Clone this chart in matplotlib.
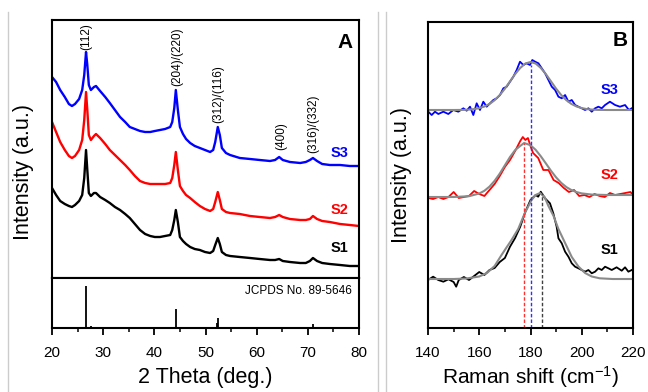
import matplotlib
matplotlib.use("Agg")
import matplotlib.pyplot as plt
from matplotlib.lines import Line2D
from matplotlib.ticker import MultipleLocator

plt.rcParams['font.family'] = ['Liberation Sans', 'DejaVu Sans']
plt.rcParams['mathtext.fontset'] = 'custom'
plt.rcParams['mathtext.rm'] = 'Liberation Sans'
plt.rcParams['mathtext.it'] = 'Liberation Sans:italic'

# ---------------- Panel A: XRD ----------------
xrd_2theta = [20.0, 20.8, 21.6, 22.5, 23.3, 23.9, 24.5, 25.3, 25.9, 26.3, 26.65, 26.9, 27.2, 27.6,
              28.2, 28.6, 29.4, 30.4, 31.3, 32.3, 33.3, 34.3, 35.2, 36.2, 37.2, 38.2, 39.2, 40.1,
              41.1, 42.1, 43.1, 43.5, 43.9, 44.2, 44.6, 45.0, 45.6, 46.2, 47.0, 47.9, 48.9, 49.9,
              50.9, 51.5, 51.9, 52.4, 52.8, 53.2, 54.0, 54.8, 56.7, 58.7, 60.6, 62.6, 63.6, 64.4,
              65.1, 66.5, 68.5, 69.6, 70.4, 71.0, 71.8, 72.8, 74.3, 76.3, 78.2, 80.0]
xrd_s3 = [201, 196, 188, 181, 174, 172, 174, 179, 188, 203, 226, 213, 193, 188,
          191, 192, 187, 181, 175, 168, 161, 156, 151, 149, 147, 146, 146, 147,
          148, 149, 151, 156, 170, 188, 168, 151, 144, 139, 135, 132, 130, 128,
          126, 128, 136, 151, 143, 130, 125, 123, 120, 119, 118, 117, 118, 121,
          118, 116, 115, 116, 118, 120, 117, 114, 113, 113, 112, 112]
xrd_s2 = [156, 146, 136, 128, 122, 120, 122, 128, 138, 158, 186, 168, 143, 138,
          142, 144, 140, 134, 128, 123, 118, 113, 108, 102, 97, 95, 94, 94,
          94, 94, 95, 100, 113, 126, 108, 92, 87, 83, 80, 76, 72, 69,
          67, 69, 76, 86, 78, 69, 66, 65, 64, 62, 61, 60, 61, 63,
          61, 59, 58, 58, 59, 62, 59, 57, 56, 54, 53, 52]
xrd_s1 = [90, 83, 77, 74, 72, 71, 73, 77, 83, 100, 128, 108, 85, 82,
          85, 85, 81, 78, 75, 71, 68, 64, 60, 54, 48, 44, 42, 41,
          41, 42, 43, 48, 58, 68, 56, 41, 37, 34, 31, 29, 28, 26,
          25, 27, 33, 40, 34, 26, 23, 22, 21, 20, 19, 18, 18, 19,
          17, 16, 15, 15, 17, 20, 17, 15, 14, 13, 12, 12]

jcpds_2theta = [26.7, 27.7, 35.6, 44.2, 52.2, 52.45, 64.5, 71.0]
jcpds_int = [42, 2, 1.5, 19, 5, 10, 1.5, 4]

hkl_labels = ['(112)', '(204)/(220)', '(312)/(116)', '(400)', '(316)/(332)']
hkl_pos = [26.7, 44.4, 52.4, 64.75, 71.0]
hkl_base = [228, 192, 155, 128, 125]

# ---------------- Panel B: Raman ----------------
ram_s3_x = [140.13, 141.43, 142.73, 144.03, 145.98, 147.93, 149.89, 151.84, 153.79, 155.09,
            156.39, 157.69, 158.99, 160.29, 161.59, 162.9, 164.2, 165.5, 166.8, 168.1,
            169.4, 170.7, 172.0, 173.3, 174.6, 175.9, 177.2, 178.5, 179.8, 180.7,
            181.8, 183.1, 184.4, 185.7, 187.0, 188.3, 189.6, 190.9, 192.2, 193.5,
            194.8, 196.1, 197.4, 198.7, 200.0, 201.3, 202.6, 203.9, 205.2, 206.5,
            207.8, 209.1, 211.0, 213.0, 214.9, 216.9, 218.4, 219.5]
ram_s3_y = [216.3, 213, 216.3, 214, 216.3, 214, 218, 216.3, 219.7, 217.3,
            221.3, 213, 224.7, 218, 226.3, 221.3, 224.7, 228, 229.7, 233,
            239.7, 241.3, 246.3, 251.3, 258, 266.3, 263, 264.7, 263, 268,
            266.3, 264.7, 259.7, 254.7, 248, 241.3, 238, 231.3, 229.7, 233,
            226.3, 228, 223, 221.3, 219.7, 218, 219.7, 216.3, 219.7, 221.3,
            219.7, 223, 226.3, 223, 221.3, 223, 218, 219.7]

ram_s2_x = [140, 142, 144, 146, 148, 150, 152, 154, 156, 158, 160, 162, 164, 166, 168, 170,
            172, 174, 176, 177, 178, 179, 180, 181, 183, 185, 187, 189, 191, 193, 195, 197,
            199, 201, 203, 205, 207, 209, 211, 213, 215, 217, 219, 220]
ram_s2_y = [130, 129, 131, 129, 131, 136, 130, 131, 132, 137, 134, 132, 138, 144, 152, 161,
            168, 177, 187, 191, 188, 190, 182, 175, 170, 158, 158, 148, 145, 140, 136, 138,
            132, 133, 131, 134, 132, 131, 135, 133, 134, 135, 136, 133]

ram_s1_x = [140, 142, 144, 146, 148, 150, 151, 152, 154, 156, 158, 160, 162, 164, 166, 168,
            170, 172, 174, 176, 178, 180, 182, 183, 184, 185.66, 187.6, 188.9, 190.2, 190.9,
            192.2, 193.5, 194.8, 196.1, 197.4, 198.7, 200.0, 201.3, 202.6, 203.9, 205.2,
            206.5, 207.8, 209.1, 210.4, 211.7, 213.6, 215.6, 216.9, 218.2, 219.5]
ram_s1_y = [48, 51.3, 48, 46.3, 48.7, 46, 41.3, 48, 51, 48, 52, 56, 53, 58, 60, 66,
            70, 81.3, 90, 101.3, 116.3, 128, 133, 131.3, 136.3, 129.7, 124.7, 114.7, 101.3, 89.7,
            84.7, 76.3, 71.3, 64.7, 61.3, 59.7, 58, 56.3, 58, 54.7, 56.3,
            59.7, 58, 61.3, 59.7, 58, 60.7, 57.3, 60.7, 56.3, 58]

fit_s3_x = [140, 150, 154, 156, 158, 160, 162, 164, 166, 168, 170, 172, 174, 176, 178, 180,
            182, 184, 186, 188, 190, 192, 194, 196, 198, 200, 202, 204, 206, 210, 220]
fit_s3_y = [218, 218, 218.1, 218.4, 218.9, 219.9, 221.5, 224, 227.8, 232.9, 239.3, 246.6, 253.9,
            260.1, 264.5, 266, 264.5, 260.1, 253.9, 246.6, 239.3, 232.9, 227.8, 224, 221.5,
            219.9, 218.9, 218.4, 218.1, 218, 218]
fit_s2_x = [140, 150, 156, 160, 162, 164, 166, 168, 170, 172, 174, 176, 177.5, 180, 182, 184,
            186, 188, 190, 192, 194, 196, 198, 200, 204, 210, 220]
fit_s2_y = [131, 131, 131.8, 134.5, 137.2, 141.4, 147.2, 154.4, 162.7, 171, 177.9, 182.1, 185,
            182.8, 178.2, 171.8, 164.6, 157.2, 150.6, 145.1, 140.9, 137.9, 135.9, 134.6, 133.4,
            133, 133]
fit_s1_x = [140, 150, 155, 160, 163, 166, 168.7, 170.5, 172.6, 175.2, 177.8, 180.4, 182, 183.7,
            185.5, 187, 189, 190.9, 193.5, 196.1, 198.7, 201.3, 203.9, 207, 212, 220]
fit_s1_y = [49, 49, 49.5, 51.5, 55, 62, 73, 80, 88, 99, 115, 128, 133, 135,
            131, 122, 112, 99, 85, 71, 61.5, 55, 51.5, 49.7, 49, 49]

peak_pos = [177.5, 180.2, 184.4]      # S2, S3, S1
peak_top = [185, 263, 135]
peak_col = ['#ff3030', '#3030ff', '#404040']

# ---------------- figure ----------------
fig = plt.figure(figsize=(6.48, 3.92), dpi=100)
W, H = 648.0, 392.0

def box(l, t, r, b):
    return [l / W, 1 - b / H, (r - l) / W, (b - t) / H]

axA = fig.add_axes(box(52, 20, 359, 278))
axR = fig.add_axes(box(52, 278, 359, 328), sharex=axA)
axB = fig.add_axes(box(428, 22, 633, 328))

for ax in (axA, axR, axB):
    for s in ax.spines.values():
        s.set_linewidth(1.5)
    ax.set_yticks([])

lw = 1.7
axA.plot(xrd_2theta, xrd_s3, color='#0000ff', lw=lw)
axA.plot(xrd_2theta, xrd_s2, color='#ff0000', lw=lw)
axA.plot(xrd_2theta, xrd_s1, color='#000000', lw=lw)
axA.set_xlim(20, 80)
axA.set_ylim(0, 258)
axA.tick_params(axis='x', which='both', bottom=False, labelbottom=False)
for lab, xp, yb in zip(hkl_labels, hkl_pos, hkl_base):
    axA.text(xp, yb, lab, rotation=90, ha='center', va='bottom', fontsize=8.5)
axA.text(76.1, 125, 'S3', color='#0000ff', fontsize=10.5, fontweight='bold', ha='center', va='center')
axA.text(76.1, 68, 'S2', color='#ff0000', fontsize=10.5, fontweight='bold', ha='center', va='center')
axA.text(76.1, 30, 'S1', color='#000000', fontsize=10.5, fontweight='bold', ha='center', va='center')
axA.text(77.3, 235, 'A', fontsize=15, fontweight='bold', ha='center', va='center')

axR.vlines(jcpds_2theta, 0, jcpds_int, color='black', lw=1.3)
axR.set_ylim(0, 50)
axR.set_xlim(20, 80)
axR.xaxis.set_major_locator(MultipleLocator(10))
axR.xaxis.set_minor_locator(MultipleLocator(5))
axR.tick_params(axis='x', which='major', direction='out', length=5, width=1.3, labelsize=11, pad=8)
axR.tick_params(axis='x', which='minor', direction='out', length=3, width=1.1)
axR.text(78.6, 37, 'JCPDS No. 89-5646', fontsize=8.5, ha='right', va='center')

# Panel B
lwb = 1.3
axB.plot(ram_s3_x, ram_s3_y, color='#0000ff', lw=lwb)
axB.plot(ram_s2_x, ram_s2_y, color='#ff0000', lw=lwb)
axB.plot(ram_s1_x, ram_s1_y, color='#000000', lw=lwb)
for fx, fy in ((fit_s3_x, fit_s3_y), (fit_s2_x, fit_s2_y), (fit_s1_x, fit_s1_y)):
    axB.plot(fx, fy, color='#8a8a8a', lw=1.5)
for p, t, c in zip(peak_pos, peak_top, peak_col):
    axB.vlines(p, 0, t, colors=c, linestyles=(0, (2.5, 1.5)), lw=1.0)
axB.set_xlim(140, 220)
axB.set_ylim(0, 306)
axB.xaxis.set_major_locator(MultipleLocator(20))
axB.xaxis.set_minor_locator(MultipleLocator(10))
axB.tick_params(axis='x', which='major', direction='out', length=5, width=1.3, labelsize=11, pad=8)
axB.tick_params(axis='x', which='minor', direction='out', length=3, width=1.1)
axB.text(211, 238, 'S3', color='#0000ff', fontsize=10.5, fontweight='bold', ha='center', va='center')
axB.text(211, 153, 'S2', color='#ff0000', fontsize=10.5, fontweight='bold', ha='center', va='center')
axB.text(211, 78, 'S1', color='#000000', fontsize=10.5, fontweight='bold', ha='center', va='center')
axB.text(215, 287, 'B', fontsize=15, fontweight='bold', ha='center', va='center')

# axis titles
fig.text(24 / W, 1 - 172 / H, 'Intensity (a.u.)', rotation=90, ha='center', va='center', fontsize=15.5)
fig.text(402 / W, 1 - 175 / H, 'Intensity (a.u.)', rotation=90, ha='center', va='center', fontsize=15.5)
fig.text(205 / W, 1 - 378 / H, '2 Theta (deg.)', ha='center', va='center', fontsize=15.5)
fig.text(530 / W, 1 - 377 / H, 'Raman shift (cm$^{-1}$)', ha='center', va='center', fontsize=15)

# light gray separator lines
for xp in (8, 378, 386):
    fig.add_artist(Line2D([xp / W, xp / W], [0, 1 - 12 / H], color='#cccccc', lw=1.0,
                          transform=fig.transFigure))

fig.savefig('out.png', dpi=100)
